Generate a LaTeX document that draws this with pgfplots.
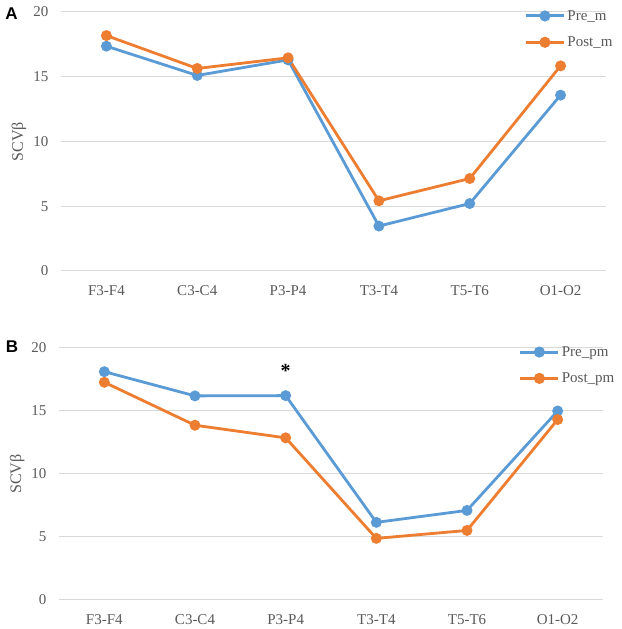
\documentclass[border=0pt]{standalone}
\usepackage{pgfplots}
\pgfplotsset{compat=1.18}
\usepackage{fontspec}
\setmainfont{Liberation Serif}
\setsansfont{Liberation Sans}
\definecolor{cblue}{HTML}{5B9BD5}
\definecolor{corange}{HTML}{ED7D31}
\definecolor{cgrid}{HTML}{D9D9D9}
\definecolor{ctext}{HTML}{595959}
\pgfplotsset{
  myaxis/.style={
    scale only axis,
    anchor=south west,
    xmin=-0.5, xmax=5.5, ymin=0, ymax=20,
    xtick={0,1,2,3,4,5},
    xticklabels={F3-F4,C3-C4,P3-P4,T3-T4,T5-T6,O1-O2},
    ytick={0,5,10,15,20},
    ymajorgrids, grid style={cgrid, line width=1pt},
    axis line style={draw=none},
    major tick length=0pt,
    tick style={draw=none},
    /pgf/number format/assume math mode=true,
    ticklabel style={font=\fontsize{15}{17}\selectfont, text=ctext},
    yticklabel style={xshift=-9pt},
    xticklabel style={yshift=-11pt},
    ylabel={SCVβ},
    every axis y label/.style={at={(axis description cs:-0.077,0.5)}, rotate=90, anchor=center,
      font=\fontsize{16}{18}\selectfont, text=ctext},
    clip=false,
    legend style={draw=none, fill=none, font=\fontsize{15}{17}\selectfont, text=ctext,
      anchor=north west, row sep=11pt, inner xsep=0pt, inner ysep=0pt},
    legend cell align=left,
    legend image code/.code={\draw[#1,line width=3pt,mark repeat=2,mark phase=2] plot coordinates {(0pt,0pt) (19pt,0pt) (38pt,0pt)};},
  },
  blueline/.style={cblue, line width=2.8pt, mark=*, mark size=4pt, mark options={solid}},
  orangeline/.style={corange, line width=2.8pt, mark=*, mark size=4pt, mark options={solid}},
}
\begin{document}
\begin{tikzpicture}
\useasboundingbox (0,0) rectangle (621pt,629pt);
% Panel A
\begin{axis}[myaxis, at={(61pt,358pt)}, width=545pt, height=259pt,
  legend style={at={(axis description cs:0.85,1.015)}}]
\addplot[blueline] coordinates {(0,17.36) (1,15.10) (2,16.30) (3,3.47) (4,5.21) (5,13.58)};
\addlegendentry{Pre\_m}
\addplot[orangeline] coordinates {(0,18.18) (1,15.64) (2,16.46) (3,5.42) (4,7.14) (5,15.84)};
\addlegendentry{Post\_m}
\end{axis}
% Panel B
\begin{axis}[myaxis, at={(59pt,29pt)}, width=544pt, height=252pt,
  legend style={at={(axis description cs:0.845,1.015)}}]
\addplot[blueline] coordinates {(0,18.12) (1,16.20) (2,16.22) (3,6.16) (4,7.11) (5,15.00)};
\addlegendentry{Pre\_pm}
\addplot[orangeline] coordinates {(0,17.28) (1,13.87) (2,12.87) (3,4.89) (4,5.52) (5,14.32)};
\addlegendentry{Post\_pm}
\node[font=\fontsize{20}{22}\selectfont\bfseries, inner sep=0pt, anchor=center] at (axis cs:2,18.2) {*};
\end{axis}
\node[font=\sffamily\bfseries\fontsize{17}{19}\selectfont] at (11.5pt,615pt) {A};
\node[font=\sffamily\bfseries\fontsize{17}{19}\selectfont] at (12pt,282pt) {B};
\end{tikzpicture}
\end{document}
